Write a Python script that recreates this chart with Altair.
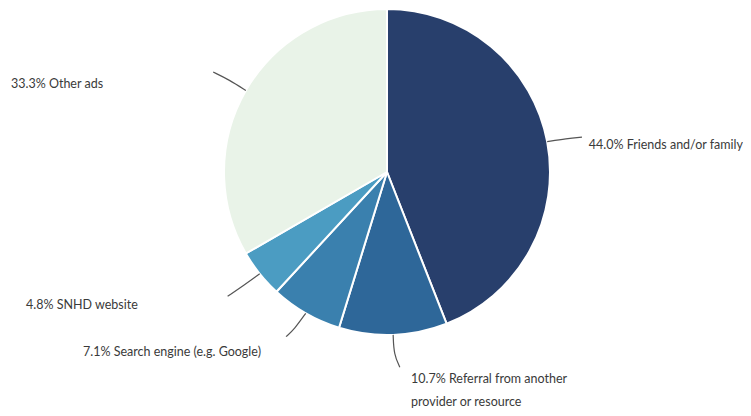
import math
import altair as alt
import pandas as pd

# ---- data ----
categories = ["Friends and/or family", "Referral from another provider or resource",
              "Search engine (e.g. Google)", "SNHD website", "Other ads"]
shares = [44.0, 10.7, 7.1, 4.8, 33.3]
label_lines = [["44.0% Friends and/or family"],
               ["10.7% Referral from another", "provider or resource"],
               ["7.1% Search engine (e.g. Google)"],
               ["4.8% SNHD website"],
               ["33.3% Other ads"]]
colors = ["#283f6c", "#2e6799", "#3a80ae", "#4b9cc2", "#e9f3e8"]

# ---- layout ----
W, H = 735, 400
CX, CY, R = 379, 164, 163          # pie centre / radius in px
# label anchors (px, chart coords) per category, one per line; "r" = right-aligned
label_pos = [[(735, 137, "r")],
             [(403, 371, "l"), (403, 394, "l")],
             [(75, 344, "l")],
             [(18, 297, "l")],
             [(3, 76, "l")]]
# leader shape: (mid angle offset deg, end angle offset deg, end radius)
leader_shape = [(0.2, 0.6, 1.215), (0.0, -1.6, 1.20), (0.6, 1.6, 1.185),
                (0.3, 0.7, 1.24), (0.3, -0.1, 1.23)]

xdom = [-CX / R, (W - CX) / R]
ydom = [-(H - CY) / R, CY / R]

total = sum(shares)
pie_df = pd.DataFrame({"cat": categories, "share": shares, "order": range(len(shares))})

# leader lines computed from slice mid-angles
rows = []
cum = 0.0
for i, (c, v) in enumerate(zip(categories, shares)):
    mid = (cum + v / 2) / total * 360.0
    cum += v
    d1, d2, rend = leader_shape[i]
    pts = [(1.0, mid), (1.12, mid + d1), (rend, mid + d2)]
    for k, (r, a) in enumerate(pts):
        rad = math.radians(a)
        rows.append({"cat": c, "k": k, "x": r * math.sin(rad), "y": r * math.cos(rad)})
lead_df = pd.DataFrame(rows)

lab_rows = []
for i, lines in enumerate(label_lines):
    for j, t in enumerate(lines):
        px, py, al = label_pos[i][j]
        lab_rows.append({"text": t, "x": (px - CX) / R, "y": (CY - py) / R, "al": al})
lab_df = pd.DataFrame(lab_rows)

xs = alt.Scale(domain=xdom, nice=False, zero=False)
ys = alt.Scale(domain=ydom, nice=False, zero=False)

pie = alt.Chart(pie_df).mark_arc(radius=R, stroke="white", strokeWidth=2).encode(
    theta=alt.Theta("share:Q", stack=True),
    order=alt.Order("order:Q"),
    color=alt.Color("cat:N", scale=alt.Scale(domain=categories, range=colors), legend=None),
    x=alt.value(CX), y=alt.value(CY),
)

leaders = alt.Chart(lead_df).mark_line(color="#555555", strokeWidth=1.2, interpolate="basis").encode(
    x=alt.X("x:Q", scale=xs, axis=None),
    y=alt.Y("y:Q", scale=ys, axis=None),
    detail="cat:N",
    order="k:Q",
)

def text_layer(align, code):
    return alt.Chart(lab_df).transform_filter(alt.datum.al == code).mark_text(
        align=align, baseline="middle", font="Lato", fontSize=12.5, color="#3a3a3a"
    ).encode(
        x=alt.X("x:Q", scale=xs, axis=None),
        y=alt.Y("y:Q", scale=ys, axis=None),
        text="text:N",
    )

chart = alt.layer(pie, leaders, text_layer("left", "l"), text_layer("right", "r")).properties(
    width=W, height=H, padding=0, background="white",
    autosize=alt.AutoSizeParams(type="none"),
).configure_view(stroke=None)

chart.save("out.html", embed_options={"renderer": "svg", "actions": False})
